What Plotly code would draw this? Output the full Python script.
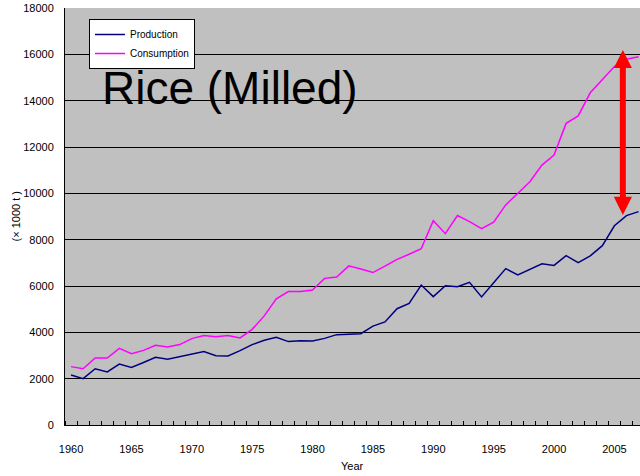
import plotly.graph_objects as go

years = list(range(1960, 2008))
production = [2160, 2000, 2430, 2290, 2630, 2480, 2700, 2920, 2840, 2950,
              3050, 3170, 2990, 2980, 3210, 3470, 3660, 3790, 3600, 3640,
              3630, 3740, 3900, 3910, 3940, 4270, 4450, 5020, 5250, 6040,
              5540, 6010, 5970, 6160, 5530, 6140, 6750, 6480, 6720, 6960,
              6890, 7310, 7010, 7300, 7740, 8600, 9040, 9210]
consumption = [2520, 2430, 2890, 2890, 3310, 3080, 3220, 3440, 3370, 3470,
               3730, 3860, 3810, 3860, 3760, 4130, 4710, 5450, 5760, 5760,
               5830, 6330, 6390, 6870, 6730, 6580, 6860, 7150, 7370, 7610,
               8820, 8260, 9040, 8780, 8480, 8760, 9500, 10000, 10500, 11220,
               11650, 13020, 13340, 14340, 14900, 15470, 15790, 15900]
year_labels = list(range(1960, 2006, 5))
y_ticks = list(range(0, 18001, 2000))

title_text = "Rice (Milled)"
series_names = ["Production", "Consumption"]

# gap arrow (annotation) between production and consumption around 2006
arrow_x = 2005.7
arrow_top = 16190
arrow_bottom = 9070
head_len = 780      # in y units (~18 px)
head_half = 0.75    # in years (~9 px)

FONT = "Liberation Sans, Arial, sans-serif"

fig = go.Figure()
fig.add_trace(go.Scatter(x=years, y=production, mode="lines", name=series_names[0],
                         line=dict(color="#000080", width=1.5)))
fig.add_trace(go.Scatter(x=years, y=consumption, mode="lines", name=series_names[1],
                         line=dict(color="#FF00FF", width=1.5)))

# arrow shapes
fig.add_shape(type="line", xref="x", yref="y",
              x0=arrow_x, x1=arrow_x, y0=arrow_bottom + head_len - 60, y1=arrow_top - head_len + 60,
              line=dict(color="#FF0000", width=6))
fig.add_shape(type="path", xref="x", yref="y",
              path=f"M {arrow_x - head_half},{arrow_top - head_len} L {arrow_x},{arrow_top} L {arrow_x + head_half},{arrow_top - head_len} Z",
              fillcolor="#FF0000", line=dict(color="#FF0000", width=0))
fig.add_shape(type="path", xref="x", yref="y",
              path=f"M {arrow_x - head_half},{arrow_bottom + head_len} L {arrow_x},{arrow_bottom} L {arrow_x + head_half},{arrow_bottom + head_len} Z",
              fillcolor="#FF0000", line=dict(color="#FF0000", width=0))

fig.add_annotation(text=title_text, xref="paper", yref="paper",
                   x=(230 - 65) / 575, y=(425 - 88) / 417, xanchor="center", yanchor="middle",
                   showarrow=False, font=dict(family=FONT, size=46, color="black"))
fig.add_annotation(text="(× 1000 t )", xref="paper", yref="paper",
                   x=(15 - 65) / 575, y=0.5, xanchor="center", yanchor="middle", textangle=-90,
                   showarrow=False, font=dict(family=FONT, size=11, color="black"))
fig.add_annotation(text="Year", xref="paper", yref="paper",
                   x=(352 - 65) / 575, y=(425 - 466) / 417, xanchor="center", yanchor="middle",
                   showarrow=False, font=dict(family=FONT, size=11, color="black"))

fig.update_layout(
    width=640, height=476,
    margin=dict(l=65, r=0, t=8, b=51),
    paper_bgcolor="white", plot_bgcolor="#C0C0C0",
    font=dict(family=FONT, size=11, color="black"),
    showlegend=True,
    legend=dict(x=(89 - 65) / 575, y=(425 - 19) / 417, xanchor="left", yanchor="top",
                bgcolor="white", bordercolor="black", borderwidth=1,
                font=dict(family=FONT, size=10, color="black"),
                itemwidth=30, tracegroupgap=0),
    xaxis=dict(range=[1959.5, 2007.12], tickvals=year_labels, ticks="",
               showgrid=False, zeroline=False, showline=True, linecolor="black", linewidth=1,
               ticklabelstandoff=14,
               minor=dict(ticks="inside", tick0=1959.5, dtick=1, ticklen=4,
                          tickcolor="black", tickwidth=1, showgrid=False)),
    yaxis=dict(range=[0, 18000], tickvals=y_ticks, tickformat="d", ticks="", showgrid=True,
               gridcolor="black", gridwidth=1, zeroline=False,
               showline=True, linecolor="black", linewidth=1,
               ticklabelstandoff=8),
)

fig.write_html("out.html", config={"displayModeBar": False},
               post_script="document.body.style.margin='0';document.body.style.overflow='hidden';")
